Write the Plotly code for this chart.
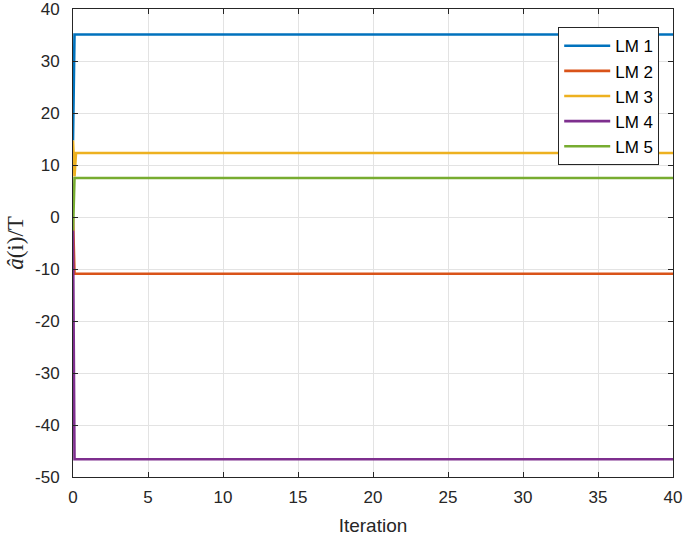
import plotly.graph_objects as go

iterations = [0, 0.1, 0.2, 40]
series_names = ["LM 1", "LM 2", "LM 3", "LM 4", "LM 5"]
lm1 = [14.7, 35.1, 35.1, 35.1]
lm2 = [0.0, -10.9, -10.9, -10.9]
lm3 = [14.7, 7.8, 12.3, 12.3]
lm4 = [-2.6, -46.6, -46.6, -46.6]
lm5 = [-2.6, 7.5, 7.5, 7.5]
series_values = [lm1, lm2, lm3, lm4, lm5]
colors = ["#0072BD", "#D95319", "#EDB120", "#7E2F8E", "#77AC30"]
x_ticks = [0, 5, 10, 15, 20, 25, 30, 35, 40]
y_ticks = [-50, -40, -30, -20, -10, 0, 10, 20, 30, 40]

fig = go.Figure()
for name, vals, c in zip(series_names, series_values, colors):
    fig.add_trace(go.Scatter(x=iterations, y=vals, mode="lines", name=name,
                             line=dict(color=c, width=2.6)))

axis_common = dict(showline=True, linecolor="#262626", linewidth=1, mirror="ticks",
                   ticks="inside", ticklen=5, tickcolor="#262626", automargin=False,
                   ticklabeloverflow="allow",
                   showgrid=True, gridcolor="#e3e3e3", gridwidth=1, zeroline=False,
                   tickfont=dict(family="Liberation Sans, Arial", size=17, color="#262626"))

fig.update_xaxes(range=[0, 40], tickvals=x_ticks, ticktext=[str(v) for v in x_ticks],
                 ticklabelstandoff=5,
                 title=dict(text="Iteration", font=dict(family="Liberation Sans, Arial", size=19, color="#262626"), standoff=12),
                 **axis_common)
fig.update_yaxes(range=[-50, 40], tickvals=y_ticks, ticktext=[str(v) for v in y_ticks],
                 ticklabelstandoff=9,
                 title=dict(text="<i>â</i>(i)/T", font=dict(family="Liberation Serif, DejaVu Serif", size=23, color="#262626"), standoff=4),
                 **axis_common)

fig.update_layout(
    width=685, height=540,
    margin=dict(l=73, r=12, t=9, b=63),
    plot_bgcolor="white", paper_bgcolor="white",
    legend=dict(x=0.977, y=0.961, xanchor="right", yanchor="top",
                bgcolor="white", bordercolor="#262626", borderwidth=1,
                font=dict(family="Liberation Sans, Arial", size=17, color="black"),
                tracegroupgap=0, itemwidth=46),
    showlegend=True,
)

fig.write_html("out.html", config={"displayModeBar": False},
               post_script="document.body.style.margin='0';")
